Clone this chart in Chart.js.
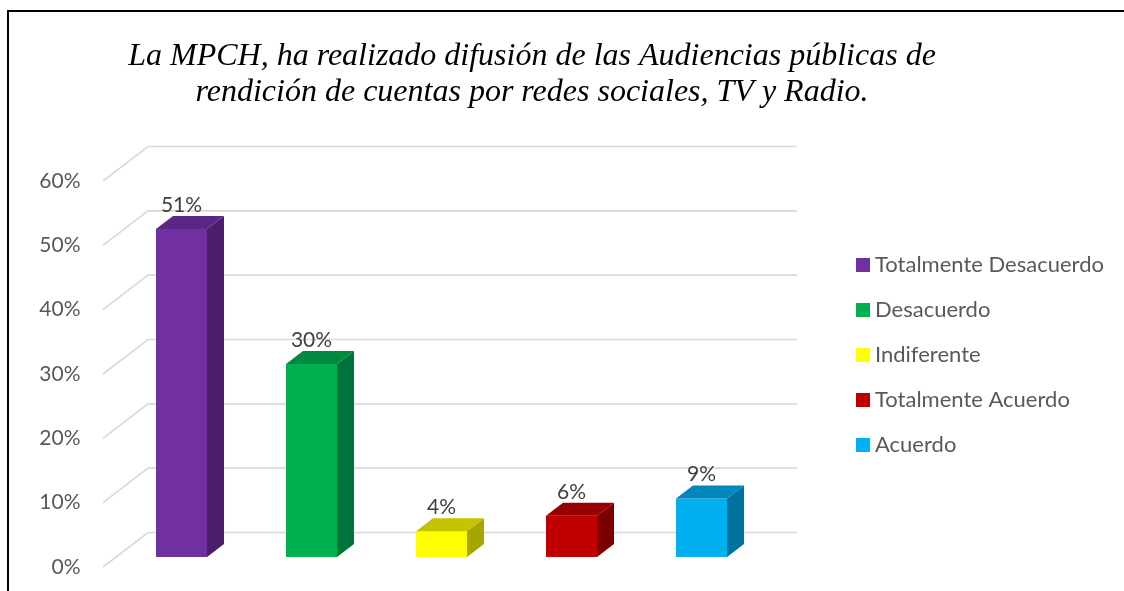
<!DOCTYPE html>
<html>
<head>
<meta charset="utf-8">
<script src="https://cdn.jsdelivr.net/npm/chart.js@4.4.1/dist/chart.umd.min.js"></script>
<style>
  html, body { margin: 0; padding: 0; background: #ffffff; }
  #wrap { width: 1124px; height: 591px; position: relative; }
</style>
</head>
<body>
<div id="wrap"><canvas id="c" width="1124" height="591"></canvas></div>
<script>
// ---- data ----
const categories = ["Totalmente Desacuerdo", "Desacuerdo", "Indiferente", "Totalmente Acuerdo", "Acuerdo"];
const values = [51, 30, 4, 6.4, 9.1];
const valueLabels = ["51%", "30%", "4%", "6%", "9%"];
const yTicks = [0, 10, 20, 30, 40, 50, 60];
const titleLines = ["La MPCH, ha realizado difusión de las Audiencias públicas de", "rendición de cuentas por redes sociales, TV y Radio."];

// ---- styles ----
const frontColors = ["#7030A0", "#00B050", "#FFFF00", "#C00000", "#00B0F0"];
const sideColors  = ["#4A1E68", "#00733A", "#A6A600", "#7C0000", "#00729E"];
const topColors   = ["#5B2685", "#008A40", "#C4C400", "#960000", "#0088BC"];
const DEPTH_X = 17, DEPTH_Y = -13;
const FONT = "Lato, 'Open Sans', sans-serif";

const framePlugin = {
  id: 'frame',
  beforeDraw(chart) {
    const ctx = chart.ctx;
    ctx.save();
    ctx.fillStyle = '#ffffff';
    ctx.fillRect(0, 0, chart.width, chart.height);
    ctx.strokeStyle = '#000000';
    ctx.lineWidth = 2;
    ctx.beginPath();
    ctx.moveTo(8, chart.height);
    ctx.lineTo(8, 11);
    ctx.lineTo(chart.width, 11);
    ctx.stroke();
    ctx.restore();
  }
};

const gridPlugin = {
  id: 'grid3d',
  beforeDatasetsDraw(chart) {
    const ctx = chart.ctx;
    const ys = chart.scales.y;
    const area = chart.chartArea;
    ctx.save();
    ctx.strokeStyle = '#D9D9D9';
    ctx.lineWidth = 1.6;
    yTicks.forEach(v => {
      const y = ys.getPixelForValue(v);
      ctx.beginPath();
      ctx.moveTo(area.left - 13.5, y + 10);
      ctx.lineTo(area.left + 31.5, y - 24.5);
      ctx.lineTo(area.right + 30.5, y - 24.5);
      ctx.stroke();
    });
    ctx.restore();
  }
};

const bar3dPlugin = {
  id: 'bar3d',
  afterDatasetsDraw(chart) {
    const ctx = chart.ctx;
    const meta = chart.getDatasetMeta(0);
    ctx.save();
    meta.data.forEach((bar, i) => {
      const p = bar.getProps(['x', 'y', 'base', 'width'], true);
      const l = p.x - p.width / 2, r = p.x + p.width / 2;
      ctx.fillStyle = sideColors[i];
      ctx.beginPath();
      ctx.moveTo(r, p.y);
      ctx.lineTo(r + DEPTH_X, p.y + DEPTH_Y);
      ctx.lineTo(r + DEPTH_X, p.base + DEPTH_Y);
      ctx.lineTo(r, p.base);
      ctx.closePath();
      ctx.fill();
      ctx.fillStyle = topColors[i];
      ctx.beginPath();
      ctx.moveTo(l, p.y);
      ctx.lineTo(l + DEPTH_X, p.y + DEPTH_Y);
      ctx.lineTo(r + DEPTH_X, p.y + DEPTH_Y);
      ctx.lineTo(r, p.y);
      ctx.closePath();
      ctx.fill();
      ctx.fillStyle = '#404040';
      ctx.font = "21px " + FONT;
      ctx.textAlign = 'center';
      ctx.textBaseline = 'middle';
      ctx.fillText(valueLabels[i], p.x, p.y - 24);
    });
    ctx.restore();
  }
};

const legendPlugin = {
  id: 'sideLegend',
  afterDraw(chart) {
    const ctx = chart.ctx;
    ctx.save();
    ctx.font = "22px " + FONT;
    ctx.textBaseline = 'middle';
    ctx.textAlign = 'left';
    const x0 = 856, y0 = 265, step = 45;
    categories.forEach((c, i) => {
      const y = y0 + i * step;
      ctx.fillStyle = frontColors[i];
      ctx.fillRect(x0, y - 7, 14, 14);
      ctx.fillStyle = '#595959';
      ctx.fillText(c, x0 + 19, y);
    });
    ctx.restore();
  }
};

new Chart(document.getElementById('c'), {
  type: 'bar',
  data: {
    labels: categories,
    datasets: [{
      data: values,
      backgroundColor: frontColors,
      borderWidth: 0,
      categoryPercentage: 1,
      barPercentage: 51 / 130
    }]
  },
  options: {
    responsive: false,
    animation: false,
    devicePixelRatio: 1,
    layout: { padding: { left: 0, right: 60, top: 0, bottom: 34 } },
    plugins: {
      legend: { display: false },
      tooltip: { enabled: false },
      title: {
        display: true,
        text: titleLines,
        color: '#000000',
        font: { family: "'Liberation Serif', 'Times New Roman', serif", style: 'italic', size: 32, weight: 'normal', lineHeight: 1.125 },
        padding: { top: 39, bottom: 60 }
      }
    },
    scales: {
      x: { display: false },
      y: {
        min: 0, max: 60,
        afterBuildTicks(scale) { scale.ticks = yTicks.map(v => ({ value: v })); },
        afterFit(scale) { scale.width = 116.5; scale.paddingTop = 0; scale.paddingBottom = 0; },
        grid: { display: false, drawTicks: false },
        border: { display: false },
        ticks: {
          padding: 36,
          labelOffset: 10,
          color: '#595959',
          font: { family: FONT, size: 21 },
          callback: v => v + '%'
        }
      },
      y2: {
        position: 'right',
        display: true,
        min: 0, max: 60,
        afterFit(scale) { scale.width = 297.5; scale.paddingTop = 0; scale.paddingBottom = 0; },
        grid: { display: false, drawTicks: false },
        border: { display: false },
        ticks: { display: false }
      }
    }
  },
  plugins: [framePlugin, gridPlugin, bar3dPlugin, legendPlugin]
});
</script>
</body>
</html>
